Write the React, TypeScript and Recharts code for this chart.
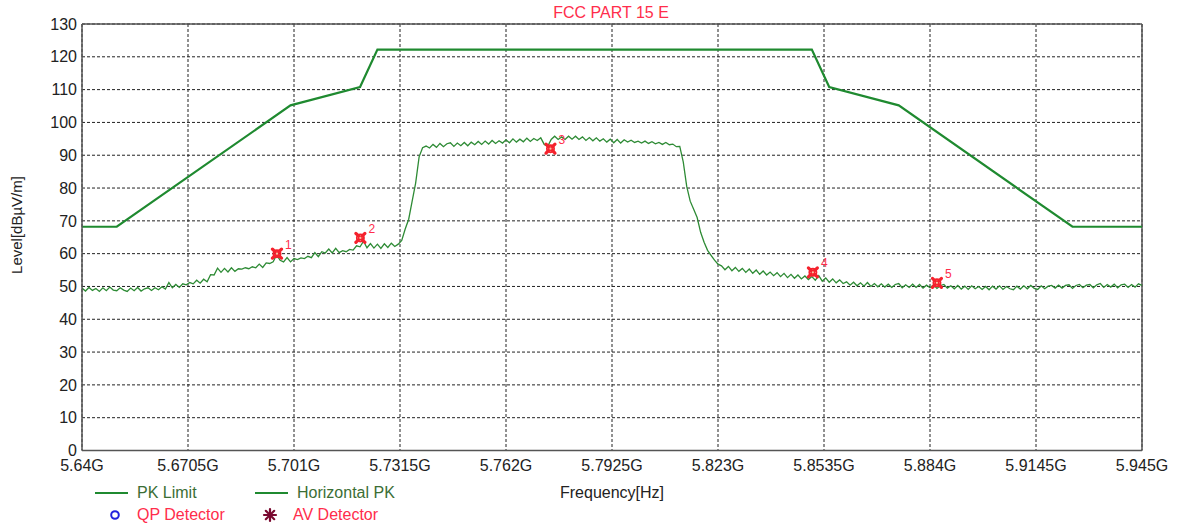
import React from "react";
import {
  CartesianGrid,
  ComposedChart,
  Line,
  ReferenceLine,
  Scatter,
  XAxis,
  YAxis,
} from "recharts";

const xTicks = [5.64, 5.6705, 5.701, 5.7315, 5.762, 5.7925, 5.823, 5.8535, 5.884, 5.9145, 5.945];
const xTickLabels = ["5.64G", "5.6705G", "5.701G", "5.7315G", "5.762G", "5.7925G", "5.823G", "5.8535G", "5.884G", "5.9145G", "5.945G"];
const yTicks = [0, 10, 20, 30, 40, 50, 60, 70, 80, 90, 100, 110, 120, 130];

// PK limit mask (GHz / dBuV/m)
const limitFreq = [5.64, 5.65, 5.7, 5.72, 5.725, 5.85, 5.855, 5.875, 5.925, 5.945];
const limitLevel = [68.2, 68.2, 105.2, 110.8, 122.2, 122.2, 110.8, 105.2, 68.2, 68.2];

// Horizontal PK sweep, 1 MHz per point from 5.640 GHz
const sweepStart = 5.64;
const sweepStep = 0.001;
const sweepLevel = [
  49.5, 48.6, 49.7, 48.8, 49.4, 48.5, 49.6, 48.7, 49.8, 48.9,
  48.7, 49.6, 48.9, 48.5, 49.5, 48.7, 49.7, 48.6, 49.3, 49.6,
  48.8, 49.6, 49.0, 49.9, 49.2, 51.2, 49.6, 50.6, 49.7, 50.8,
  50.5, 51.2, 50.8, 51.9, 51.0, 52.2, 51.4, 53.6, 53.5, 55.6,
  54.3, 55.5, 54.4, 55.7, 54.6, 55.4, 55.3, 55.7, 55.4, 56.0,
  55.7, 56.8, 55.8, 57.2, 57.0, 57.5, 59.6, 58.0, 57.5, 58.8,
  57.5, 58.5, 58.2, 58.7, 58.5, 59.2, 58.8, 60.3, 59.1, 60.6,
  60.2, 61.4, 60.2, 61.6, 60.3, 60.9, 60.6, 61.3, 61.1, 62.4,
  62.1, 63.8, 61.8, 63.1, 61.7, 62.9, 61.6, 63.0, 61.9, 63.2,
  62.2, 62.9, 64.0, 67.5, 70.5, 76.0, 81.5, 89.5, 92.3, 92.8,
  92.2, 93.3, 92.4, 93.6, 92.6, 93.5, 93.8, 92.7, 93.7, 92.9,
  93.9, 92.9, 94.0, 93.2, 94.2, 93.3, 94.3, 93.4, 94.5, 93.6,
  94.4, 93.7, 94.7, 93.8, 95.0, 94.0, 94.9, 94.1, 95.2, 94.2,
  95.1, 94.5, 95.3, 93.3, 92.7, 94.8, 95.8, 94.8, 95.6, 94.8,
  95.8, 94.9, 95.8, 94.8, 95.6, 94.5, 95.4, 94.4, 95.3, 94.3,
  95.0, 94.0, 94.9, 93.8, 94.8, 93.7, 94.7, 94.0, 94.6, 93.9,
  94.3, 93.7, 94.3, 93.6, 94.1, 93.5, 93.9, 93.3, 93.9, 93.2,
  93.4, 92.6, 92.7, 88.0, 80.5, 76.0, 73.5, 71.0, 66.5, 63.5,
  61.0, 59.5, 58.0, 56.8, 56.3, 55.1, 56.1, 54.8, 55.8, 54.6,
  55.5, 54.3, 55.3, 54.0, 55.0, 53.7, 54.7, 53.5, 54.4, 53.3,
  54.2, 53.0, 54.0, 52.7, 53.7, 52.5, 53.5, 52.3, 53.2, 52.1,
  53.0, 51.9, 53.3, 51.6, 52.6, 51.3, 52.3, 51.1, 52.0, 50.9,
  51.4, 50.4, 51.3, 50.2, 51.1, 50.1, 51.2, 50.0, 50.9, 49.9,
  50.8, 49.8, 50.7, 49.7, 50.6, 50.9, 49.6, 50.5, 49.7, 50.7,
  49.7, 50.6, 49.5, 50.4, 49.6, 50.5, 49.4, 50.3, 50.6, 49.5,
  50.2, 49.3, 50.3, 49.2, 50.1, 49.1, 50.2, 49.3, 50.0, 49.1,
  50.0, 49.0, 50.1, 49.2, 50.2, 49.1, 50.0, 49.3, 49.0, 50.1,
  49.2, 50.2, 49.3, 50.3, 49.4, 49.1, 50.2, 49.3, 50.1, 50.3,
  49.5, 50.4, 49.5, 50.3, 50.5, 49.4, 50.3, 50.6, 49.6, 50.4,
  50.6, 49.6, 50.5, 50.9, 49.7, 50.6, 49.8, 50.7, 49.6, 50.5,
  50.7, 49.7, 50.6, 49.8, 50.8, 50.3,
];

// marker table
const markerNo = [1, 2, 3, 4, 5];
const markerFreq = [5.6961, 5.7201, 5.7748, 5.8503, 5.886];
const markerLevel = [60.0, 64.8, 92.0, 54.3, 51.1];

const limitData = limitFreq.map((f, i) => ({ freq: f, level: limitLevel[i] }));
const sweepData = sweepLevel.map((v, i) => ({ freq: +(sweepStart + i * sweepStep).toFixed(3), level: v }));
const markerData = markerFreq.map((f, i) => ({ freq: f, level: markerLevel[i], no: markerNo[i] }));

const FONT = "'Liberation Sans', Arial, sans-serif";
const GREEN = "#1f8a30";
const RED = "#ff2d4b";

const MarkerShape = (props: any) => {
  const { cx, cy, payload } = props;
  if (cx == null || cy == null) return null;
  return (
    <g>
      <line x1={cx - 4.5} y1={cy - 4.5} x2={cx + 4.5} y2={cy + 4.5} stroke="#f5222d" strokeWidth={3.2} strokeLinecap="round" />
      <line x1={cx - 4.5} y1={cy + 4.5} x2={cx + 4.5} y2={cy - 4.5} stroke="#f5222d" strokeWidth={3.2} strokeLinecap="round" />
      <circle cx={cx} cy={cy} r={3.6} fill="none" stroke="#f5222d" strokeWidth={1.8} />
      <circle cx={cx} cy={cy} r={1.1} fill="#f7c0a0" />
      <text x={cx + 8} y={cy - 5} fontSize={12} fill={RED} fontFamily={FONT}>
        {payload.no}
      </text>
    </g>
  );
};

const abs = (left: number, top: number, extra: React.CSSProperties = {}): React.CSSProperties => ({
  position: "absolute",
  left,
  top,
  fontFamily: FONT,
  fontSize: 16,
  whiteSpace: "nowrap",
  lineHeight: "18px",
  ...extra,
});

export default function App() {
  return (
    <div style={{ position: "absolute", left: 0, top: 0, width: 1178, height: 524, background: "#fff" }}>
      <ComposedChart
        width={1178}
        height={524}
        margin={{ top: 24, right: 36, bottom: 0, left: 0 }}
      >
        <CartesianGrid stroke="#222" strokeDasharray="3 2" />
        <XAxis
          dataKey="freq"
          type="number"
          domain={[5.64, 5.945]}
          ticks={xTicks}
          allowDataOverflow
          tickFormatter={(v: number) => xTickLabels[xTicks.findIndex((t) => Math.abs(t - v) < 1e-6)] ?? ""}
          tick={{ fontSize: 16, fill: "#222", fontFamily: FONT }}
          tickLine={false}
          tickSize={6}
          tickMargin={3}
          axisLine={{ stroke: "#555", strokeWidth: 1.5 }}
          height={73.5}
          interval={0}
        />
        <YAxis
          dataKey="level"
          type="number"
          domain={[0, 130]}
          ticks={yTicks}
          allowDataOverflow
          tick={{ fontSize: 16, fill: "#222", fontFamily: FONT }}
          tickLine={false}
          tickSize={3}
          tickMargin={2}
          axisLine={{ stroke: "#555", strokeWidth: 1.5 }}
          width={82}
          interval={0}
        />
        <ReferenceLine y={130} stroke="#555" strokeWidth={1.5} />
        <ReferenceLine x={5.945} stroke="#555" strokeWidth={1.5} />
        <Line
          data={sweepData}
          dataKey="level"
          type="linear"
          stroke="#2e8b35"
          strokeWidth={1.3}
          dot={false}
          isAnimationActive={false}
        />
        <Line
          data={limitData}
          dataKey="level"
          type="linear"
          stroke={GREEN}
          strokeWidth={2.2}
          dot={false}
          isAnimationActive={false}
        />
        <Scatter data={markerData} dataKey="level" shape={MarkerShape} isAnimationActive={false} />
      </ComposedChart>

      <div style={abs(611, 4, { transform: "translateX(-50%)", color: RED })}>FCC PART 15 E</div>

      <div
        style={abs(17, 225, {
          transform: "translate(-50%, -50%) rotate(-90deg)",
          color: "#222",
          fontSize: 15,
        })}
      >
        Level[dBµV/m]
      </div>

      <div style={abs(612, 484, { transform: "translateX(-50%)", color: "#222" })}>Frequency[Hz]</div>

      <svg width={1178} height={524} style={{ position: "absolute", left: 0, top: 0, pointerEvents: "none" }}>
        <line x1={95} y1={493} x2={128} y2={493} stroke={GREEN} strokeWidth={2.2} />
        <line x1={255} y1={493} x2={288} y2={493} stroke={GREEN} strokeWidth={2.2} />
        <circle cx={115} cy={515} r={3.8} fill="none" stroke="#2222dd" strokeWidth={2} />
        <g stroke="#7a0a30" strokeWidth={2.2} strokeLinecap="round">
          <line x1={270} y1={509} x2={270} y2={521} />
          <line x1={264} y1={515} x2={276} y2={515} />
          <line x1={265.8} y1={510.8} x2={274.2} y2={519.2} />
          <line x1={265.8} y1={519.2} x2={274.2} y2={510.8} />
        </g>
      </svg>

      <div style={abs(137, 484, { color: "#3b6e35" })}>PK Limit</div>
      <div style={abs(297, 484, { color: "#3b6e35" })}>Horizontal PK</div>
      <div style={abs(137, 506, { color: RED })}>QP Detector</div>
      <div style={abs(293, 506, { color: RED })}>AV Detector</div>
    </div>
  );
}
